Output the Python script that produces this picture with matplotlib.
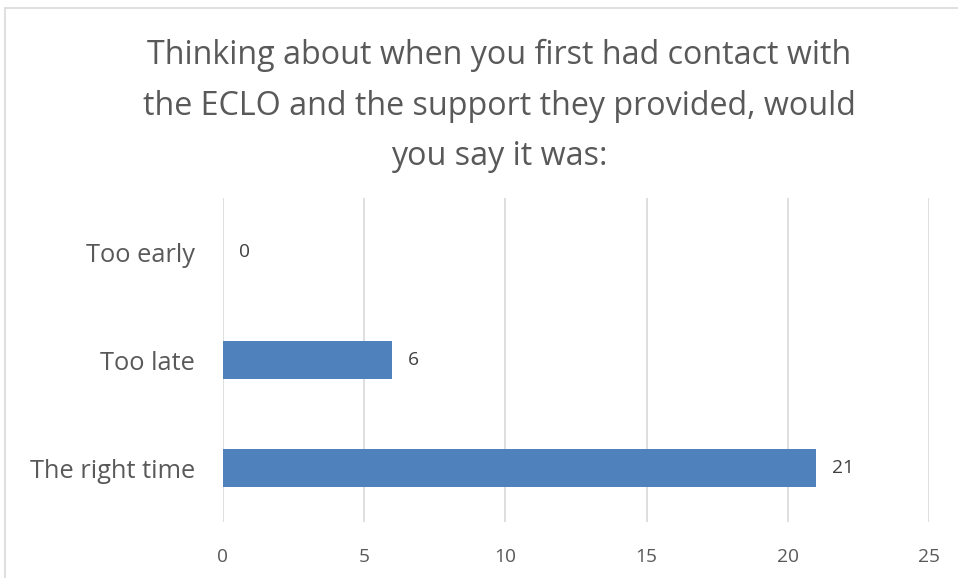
import matplotlib
matplotlib.use("Agg")
import matplotlib.pyplot as plt
from matplotlib.patches import Rectangle

categories = ["The right time", "Too late", "Too early"]
values = [21, 6, 0]
xticks = [0, 5, 10, 15, 20, 25]
title = "Thinking about when you first had contact with\nthe ECLO and the support they provided, would\nyou say it was:"

plt.rcParams['font.family'] = ['Open Sans', 'DejaVu Sans']
W, H = 958, 578
fig = plt.figure(figsize=(W/100, H/100), dpi=100)
fig.patch.set_facecolor('white')
fig.patches.append(Rectangle((5/W, -0.1), 1.2, (H-8)/H + 0.1, transform=fig.transFigure,
                             fill=False, edgecolor='#d9d9d9', linewidth=1.2))

ax = fig.add_axes([223/W, (H-522)/H, (929-223)/W, (522-198)/H])
y = list(range(len(categories)))
ax.barh(y, values, height=0.35, color='#4f81bd', zorder=3)
ax.set_xlim(0, 25)
ax.set_ylim(-0.5, 2.5)
ax.set_xticks(xticks)
ax.set_yticks(y)
ax.set_yticklabels(categories, fontsize=18.3, color='#595959')
ax.tick_params(axis='x', labelsize=13.8, colors='#595959', length=0, pad=19)
ax.tick_params(axis='y', length=0, pad=20)
ax.grid(axis='x', color='#d9d9d9', linewidth=1.2, zorder=0)
for s in ax.spines.values():
    s.set_visible(False)
for yi, v in zip(y, values):
    ax.text(v + 0.55, yi, str(v), va='center', ha='left', fontsize=13.8, color='#404040')

fig.text(499/W, 1 - 106/H, title, ha='center', va='center', fontsize=23.2,
         color='#595959', linespacing=1.71)
fig.savefig("out.png", dpi=100)
